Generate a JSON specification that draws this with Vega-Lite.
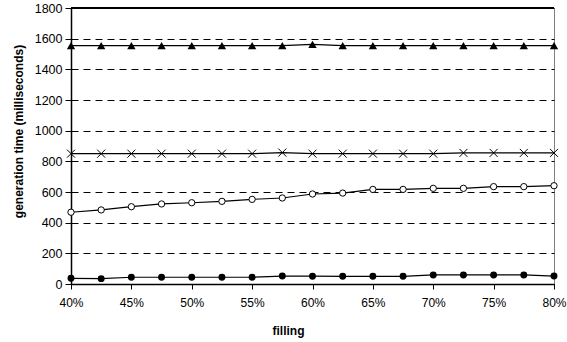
{
  "$schema": "https://vega.github.io/schema/vega-lite/v6.json",
  "width": 483,
  "height": 276,
  "autosize": {"type": "none"},
  "padding": {"left": 71, "top": 8, "right": 13, "bottom": 58},
  "background": "white",
  "config": {
    "font": "Liberation Sans",
    "view": {"stroke": "#808080", "strokeWidth": 1}
  },
  "data": {
    "values": [
      {"x": 40, "y": 1555, "s": "tri"}, {"x": 42.5, "y": 1555, "s": "tri"}, {"x": 45, "y": 1555, "s": "tri"}, {"x": 47.5, "y": 1555, "s": "tri"}, {"x": 50, "y": 1555, "s": "tri"}, {"x": 52.5, "y": 1555, "s": "tri"}, {"x": 55, "y": 1555, "s": "tri"}, {"x": 57.5, "y": 1555, "s": "tri"}, {"x": 60, "y": 1563, "s": "tri"}, {"x": 62.5, "y": 1555, "s": "tri"}, {"x": 65, "y": 1555, "s": "tri"}, {"x": 67.5, "y": 1555, "s": "tri"}, {"x": 70, "y": 1555, "s": "tri"}, {"x": 72.5, "y": 1555, "s": "tri"}, {"x": 75, "y": 1555, "s": "tri"}, {"x": 77.5, "y": 1555, "s": "tri"}, {"x": 80, "y": 1555, "s": "tri"},
      {"x": 40, "y": 850, "s": "x"}, {"x": 42.5, "y": 850, "s": "x"}, {"x": 45, "y": 850, "s": "x"}, {"x": 47.5, "y": 850, "s": "x"}, {"x": 50, "y": 850, "s": "x"}, {"x": 52.5, "y": 850, "s": "x"}, {"x": 55, "y": 850, "s": "x"}, {"x": 57.5, "y": 857, "s": "x"}, {"x": 60, "y": 850, "s": "x"}, {"x": 62.5, "y": 850, "s": "x"}, {"x": 65, "y": 850, "s": "x"}, {"x": 67.5, "y": 850, "s": "x"}, {"x": 70, "y": 850, "s": "x"}, {"x": 72.5, "y": 855, "s": "x"}, {"x": 75, "y": 855, "s": "x"}, {"x": 77.5, "y": 855, "s": "x"}, {"x": 80, "y": 855, "s": "x"},
      {"x": 40, "y": 468, "s": "open"}, {"x": 42.5, "y": 483, "s": "open"}, {"x": 45, "y": 504, "s": "open"}, {"x": 47.5, "y": 522, "s": "open"}, {"x": 50, "y": 530, "s": "open"}, {"x": 52.5, "y": 539, "s": "open"}, {"x": 55, "y": 552, "s": "open"}, {"x": 57.5, "y": 561, "s": "open"}, {"x": 60, "y": 587, "s": "open"}, {"x": 62.5, "y": 593, "s": "open"}, {"x": 65, "y": 617, "s": "open"}, {"x": 67.5, "y": 617, "s": "open"}, {"x": 70, "y": 624, "s": "open"}, {"x": 72.5, "y": 624, "s": "open"}, {"x": 75, "y": 635, "s": "open"}, {"x": 77.5, "y": 635, "s": "open"}, {"x": 80, "y": 641, "s": "open"},
      {"x": 40, "y": 37, "s": "fill"}, {"x": 42.5, "y": 35, "s": "fill"}, {"x": 45, "y": 44, "s": "fill"}, {"x": 47.5, "y": 44, "s": "fill"}, {"x": 50, "y": 44, "s": "fill"}, {"x": 52.5, "y": 44, "s": "fill"}, {"x": 55, "y": 44, "s": "fill"}, {"x": 57.5, "y": 52, "s": "fill"}, {"x": 60, "y": 51, "s": "fill"}, {"x": 62.5, "y": 50, "s": "fill"}, {"x": 65, "y": 50, "s": "fill"}, {"x": 67.5, "y": 50, "s": "fill"}, {"x": 70, "y": 59, "s": "fill"}, {"x": 72.5, "y": 59, "s": "fill"}, {"x": 75, "y": 59, "s": "fill"}, {"x": 77.5, "y": 59, "s": "fill"}, {"x": 80, "y": 52, "s": "fill"}
    ]
  },
  "encoding": {
    "x": {
      "field": "x", "type": "quantitative",
      "scale": {"domain": [40, 80], "nice": false, "zero": false},
      "axis": {
        "values": [40, 45, 50, 55, 60, 65, 70, 75, 80],
        "labelExpr": "datum.value + '%'",
        "grid": false,
        "domainColor": "#000", "domainWidth": 1.5,
        "tickColor": "#000", "tickSize": 5,
        "labelColor": "#000", "labelFontSize": 12, "labelPadding": 8, "labelFlush": false,
        "title": "filling", "titleFontSize": 12, "titleFontWeight": "bold", "titleColor": "#000",
        "titleX": 217, "titleY": 46, "titleBaseline": "middle"
      }
    },
    "y": {
      "field": "y", "type": "quantitative",
      "scale": {"domain": [0, 1800], "nice": false},
      "axis": {
        "values": [0, 200, 400, 600, 800, 1000, 1200, 1400, 1600, 1800],
        "format": "d",
        "grid": true, "gridColor": "#000", "gridDash": [7, 5], "gridWidth": 1,
        "domainColor": "#000", "domainWidth": 1.5,
        "tickColor": "#000", "tickSize": 6,
        "labelColor": "#000", "labelFontSize": 12.5, "labelPadding": 3,
        "title": "generation time (milliseconds)", "titleFontSize": 12, "titleFontWeight": "bold", "titleColor": "#000",
        "titleX": -53, "titleY": 123, "titleBaseline": "middle", "titleAlign": "center"
      }
    }
  },
  "layer": [
    {
      "mark": {"type": "rule", "color": "#000", "strokeWidth": 1.5},
      "encoding": {"y": {"datum": 1800}, "x": null}
    },
    {
      "mark": {"type": "line", "color": "#000", "strokeWidth": 1.2},
      "encoding": {"detail": {"field": "s"}}
    },
    {
      "transform": [{"filter": "datum.s === 'tri'"}],
      "mark": {"type": "point", "shape": "triangle-up", "filled": true, "color": "#000", "size": 70, "opacity": 1}
    },
    {
      "transform": [{"filter": "datum.s === 'x'"}],
      "mark": {"type": "point", "shape": "M-1,-1L1,1M-1,1L1,-1", "filled": false, "stroke": "#000", "strokeWidth": 1, "size": 64, "opacity": 1}
    },
    {
      "transform": [{"filter": "datum.s === 'open'"}],
      "mark": {"type": "point", "shape": "circle", "filled": true, "fill": "#fff", "stroke": "#000", "strokeWidth": 1, "size": 40, "opacity": 1, "fillOpacity": 1}
    },
    {
      "transform": [{"filter": "datum.s === 'fill'"}],
      "mark": {"type": "point", "shape": "circle", "filled": true, "color": "#000", "size": 48, "opacity": 1}
    }
  ]
}
